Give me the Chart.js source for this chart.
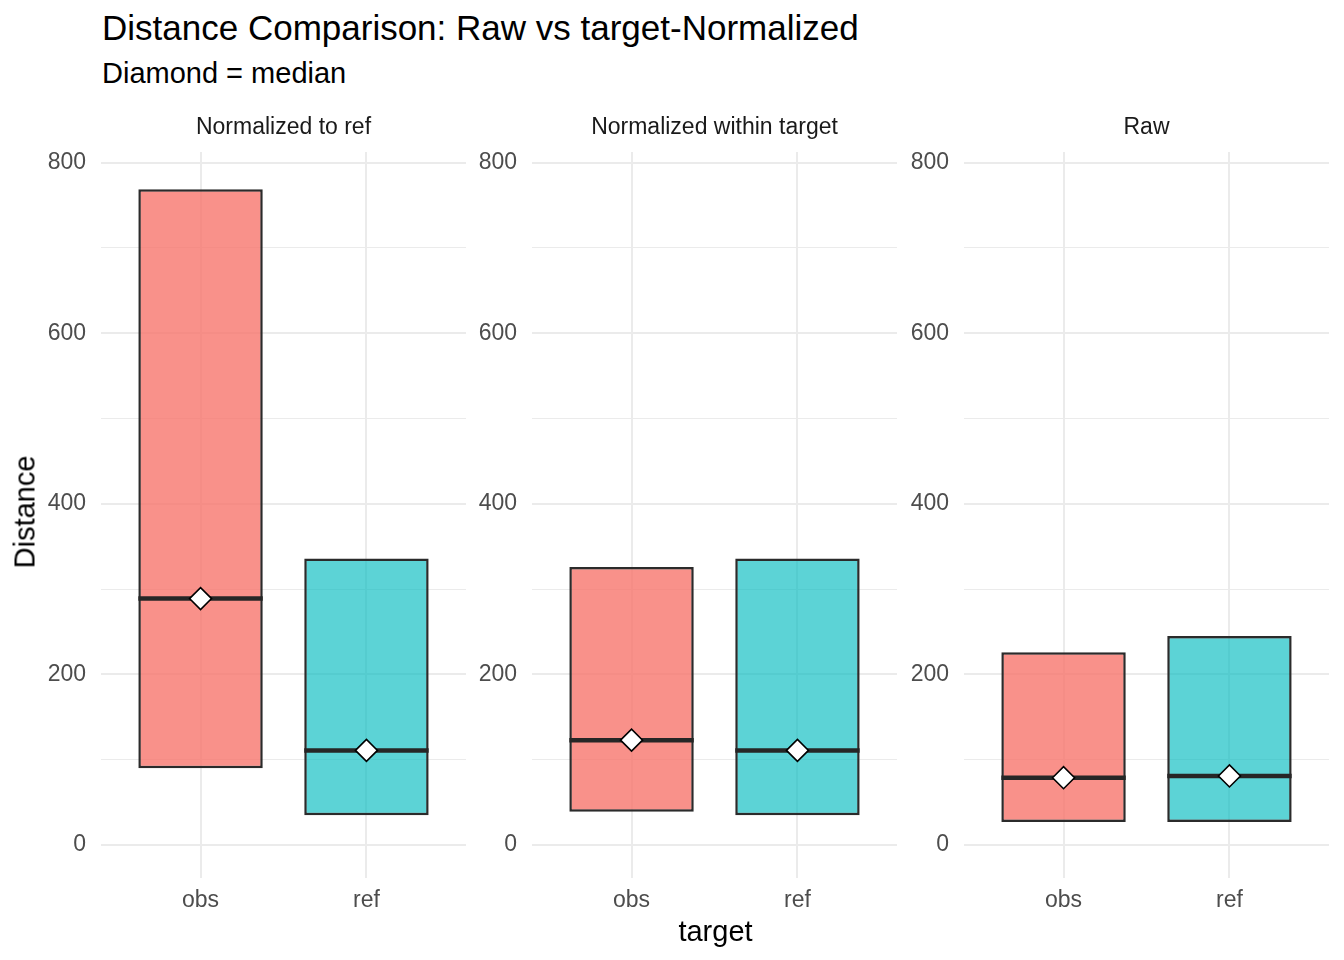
<!DOCTYPE html>
<html>
<head>
<meta charset="utf-8">
<script src="https://cdn.jsdelivr.net/npm/chart.js@4.4.1/dist/chart.umd.min.js"></script>
<style>
  body { margin: 0; background: #fff; font-family: "Liberation Sans", Arial, sans-serif; }
  #page { position: relative; width: 1344px; height: 960px; overflow: hidden; }
  .txt { position: absolute; white-space: nowrap; line-height: 1; }
  .panel { position: absolute; top: 111.5px; width: 435px; height: 811px; }
  .strip { position: absolute; top: 115px; width: 365px; text-align: center; font-size: 23px; color: #1a1a1a; }
</style>
</head>
<body>
<div id="page">
  <div class="txt" style="left:102px; top:10px; font-size:35px; color:#000;">Distance Comparison: Raw vs target-Normalized</div>
  <div class="txt" style="left:102px; top:59px; font-size:29px; color:#000;">Diamond = median</div>

  <div class="panel" style="left:31px;"><canvas id="c0"></canvas></div>
  <div class="panel" style="left:462px;"><canvas id="c1"></canvas></div>
  <div class="panel" style="left:894px;"><canvas id="c2"></canvas></div>

  <div class="txt strip" id="strip0" style="left:101px;"></div>
  <div class="txt strip" id="strip1" style="left:532px;"></div>
  <div class="txt strip" id="strip2" style="left:964px;"></div>

  <div class="txt" style="left:25px; top:512px; font-size:29px; color:#000; transform: translate(-50%,-50%) rotate(-90deg);">Distance</div>
  <div class="txt" style="left:0; width:1431px; top:917px; font-size:29px; color:#000; text-align:center;">target</div>
</div>

<script>
// facets and categories
const facetTitles = ['Normalized to ref', 'Normalized within target', 'Raw'];
const targets = ['obs', 'ref'];
const targetPos = [1, 2];
const yTicks = [0, 100, 200, 300, 400, 500, 600, 700, 800];

// Normalized to ref
const normRefMin = [90, 35];
const normRefMax = [769, 336];
const normRefMedian = [289, 111];

// Normalized within target
const withinMin = [39, 35];
const withinMax = [326, 336];
const withinMedian = [123, 111];

// Raw
const rawMin = [27, 27];
const rawMax = [226, 245];
const rawMedian = [79, 81];

const fillColors = ['rgba(248,118,109,0.8)', 'rgba(0,186,191,0.64)'];
const FONT = '"Liberation Sans", Arial, sans-serif';

// draws the thick median bar across each box, before the diamonds go on top
const medianLine = {
  id: 'medianLine',
  afterDatasetDraw(chart, args) {
    if (args.meta.type !== 'bar') return;
    const meds = chart.config.options.plugins.medianLine.values;
    const ctx = chart.ctx;
    const y = chart.scales.y;
    ctx.save();
    ctx.strokeStyle = '#262626';
    ctx.lineWidth = 4.5;
    args.meta.data.forEach((bar, i) => {
      const py = y.getPixelForValue(meds[i]);
      ctx.beginPath();
      ctx.moveTo(bar.x - bar.width / 2, py);
      ctx.lineTo(bar.x + bar.width / 2, py);
      ctx.stroke();
    });
    ctx.restore();
  }
};

function makePanel(id, mins, maxs, medians) {
  const boxes = targetPos.map((x, i) => ({ x: x, y: [mins[i], maxs[i]] }));
  const mids = targetPos.map((x, i) => ({ x: x, y: medians[i] }));
  return new Chart(document.getElementById(id), {
    data: {
      datasets: [
        {
          type: 'bar', data: boxes, order: 2,
          backgroundColor: fillColors, borderColor: '#2b2b2b', borderWidth: 2.5,
          borderSkipped: false, barPercentage: 0.75, categoryPercentage: 1
        },
        {
          type: 'scatter', data: mids, order: 1,
          pointStyle: 'rectRot', pointRadius: 11, pointHoverRadius: 11,
          pointBackgroundColor: '#fff', pointBorderColor: '#000', pointBorderWidth: 1.6
        }
      ]
    },
    options: {
      responsive: true, maintainAspectRatio: false, animation: false,
      layout: { padding: { top: 40, left: 0, right: 0, bottom: 0 }, autoPadding: false },
      plugins: { legend: { display: false }, tooltip: { enabled: false }, medianLine: { values: medians } },
      scales: {
        x: {
          type: 'linear', min: 0.4, max: 2.6, offset: false,
          afterBuildTicks: s => { s.ticks = targetPos.map(v => ({ value: v })); },
          afterFit: s => { s.height = 45; },
          ticks: {
            callback: v => targets[targetPos.indexOf(v)] || '',
            color: '#4d4d4d', font: { family: FONT, size: 23 }, padding: 9, maxRotation: 0
          },
          grid: { color: '#ebebeb', lineWidth: 2, drawTicks: false, offset: false },
          border: { display: false }
        },
        y: {
          min: -38.6, max: 812.6,
          afterBuildTicks: s => { s.ticks = yTicks.map(v => ({ value: v })); },
          afterFit: s => { s.width = 70; },
          ticks: {
            callback: v => (v % 200 === 0 ? String(v) : ''),
            color: '#4d4d4d', font: { family: FONT, size: 23 }, padding: 15
          },
          grid: {
            color: '#ebebeb', drawTicks: false,
            lineWidth: c => (c.tick && c.tick.value % 200 === 0 ? 2 : 1.1)
          },
          border: { display: false }
        }
      }
    },
    plugins: [medianLine]
  });
}

facetTitles.forEach((t, i) => { document.getElementById('strip' + i).textContent = t; });
makePanel('c0', normRefMin, normRefMax, normRefMedian);
makePanel('c1', withinMin, withinMax, withinMedian);
makePanel('c2', rawMin, rawMax, rawMedian);
</script>
</body>
</html>
